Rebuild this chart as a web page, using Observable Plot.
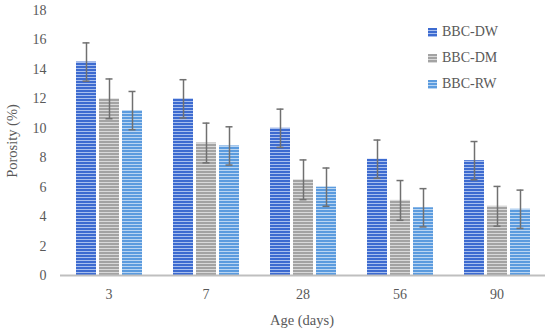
<!DOCTYPE html>
<html>
<head>
<meta charset="utf-8">
<script src="https://cdn.jsdelivr.net/npm/d3@7"></script>
<script src="https://cdn.jsdelivr.net/npm/@observablehq/plot@0.6"></script>
<style>
  html, body { margin: 0; padding: 0; background: #fff; }
  #wrap { position: relative; width: 550px; height: 331px; font-family: "Liberation Serif", "DejaVu Serif", serif; color: #595959; }
  #legend { position: absolute; left: 428px; top: 19px; font-size: 14px; }
  #legend .row { display: flex; align-items: center; height: 26px; }
  #legend svg { margin-right: 5px; }
  .xtitle { position: absolute; left: 0; width: 604px; text-align: center; top: 312px; font-size: 14.5px; }
  .ytitle { position: absolute; left: 12px; top: 141px; font-size: 14.5px; transform: translate(-50%, -50%) rotate(-90deg); white-space: nowrap; }
</style>
</head>
<body>
<svg width="0" height="0" style="position:absolute">
  <defs>
    <pattern id="pDW" width="4" height="3" patternUnits="userSpaceOnUse">
      <rect width="4" height="3" fill="#3D6BD0"/>
      <rect y="2" width="4" height="1" fill="#A8BFEE"/>
    </pattern>
    <pattern id="pDM" width="4" height="3" patternUnits="userSpaceOnUse">
      <rect width="4" height="3" fill="#A3A3A3"/>
      <rect y="2" width="4" height="1" fill="#D9D9D9"/>
    </pattern>
    <pattern id="pRW" width="4" height="3" patternUnits="userSpaceOnUse">
      <rect width="4" height="3" fill="#5B9BDE"/>
      <rect y="2" width="4" height="1" fill="#B9D5F2"/>
    </pattern>
  </defs>
</svg>
<div id="wrap"></div>
<script>
const ages = ["3", "7", "28", "56", "90"];
const seriesNames = ["BBC-DW", "BBC-DM", "BBC-RW"];
const dw = [14.5, 12.0, 10.0, 7.9, 7.8];
const dm = [12.0, 9.0, 6.5, 5.1, 4.7];
const rw = [11.2, 8.8, 6.0, 4.6, 4.5];
const dwErr = [1.3, 1.3, 1.3, 1.3, 1.3];
const dmErr = [1.35, 1.35, 1.35, 1.35, 1.35];
const rwErr = [1.3, 1.3, 1.3, 1.3, 1.3];
const yTicks = [0, 2, 4, 6, 8, 10, 12, 14, 16, 18];
const xTitle = "Age (days)";
const yTitle = "Porosity (%)";
const patterns = ["url(#pDW)", "url(#pDM)", "url(#pRW)"];

const vals = [dw, dm, rw];
const errs = [dwErr, dmErr, rwErr];
const data = [];
ages.forEach((a, i) => {
  seriesNames.forEach((s, j) => {
    data.push({age: a, series: s, value: vals[j][i], err: errs[j][i]});
  });
});

const font = '"Liberation Serif", "DejaVu Serif", serif';

const chart = Plot.plot({
  width: 550,
  height: 331,
  marginLeft: 58,
  marginRight: 3,
  marginTop: 10,
  marginBottom: 56,
  style: {fontFamily: font, fontSize: "14px", color: "#595959", background: "#fff"},
  fx: {domain: ages, padding: 0, label: null, axis: "bottom", tickSize: 0, tickPadding: 14},
  x: {domain: seriesNames, paddingInner: 0.15, paddingOuter: 0.65, axis: null},
  y: {domain: [0, 18], ticks: yTicks, tickSize: 0, tickPadding: 14, label: null, tickFormat: d3.format("d")},
  color: {domain: seriesNames, range: patterns},
  marks: [
    Plot.barY(data, {fx: "age", x: "series", y: "value", fill: "series"}),
    Plot.ruleX(data, {fx: "age", x: "series", y1: d => d.value - d.err, y2: d => d.value + d.err, stroke: "#707070", strokeWidth: 1.5}),
    Plot.tickY(data, {fx: "age", x: "series", y: d => d.value + d.err, stroke: "#707070", strokeWidth: 1.5, insetLeft: 6.5, insetRight: 6.5}),
    Plot.tickY(data, {fx: "age", x: "series", y: d => d.value - d.err, stroke: "#707070", strokeWidth: 1.5, insetLeft: 6.5, insetRight: 6.5}),
    Plot.ruleY([0], {stroke: "#BFBFBF", strokeWidth: 2})
  ]
});
const wrap = document.getElementById("wrap");
wrap.appendChild(chart);

const xt = document.createElement("div");
xt.className = "xtitle"; xt.textContent = xTitle; wrap.appendChild(xt);
const yt = document.createElement("div");
yt.className = "ytitle"; yt.textContent = yTitle; wrap.appendChild(yt);

const legend = document.createElement("div");
legend.id = "legend";
seriesNames.forEach((s, j) => {
  const row = document.createElement("div");
  row.className = "row";
  row.innerHTML = `<svg width="9" height="9"><rect width="9" height="9" fill="${patterns[j]}"/></svg><span>${s}</span>`;
  legend.appendChild(row);
});
wrap.appendChild(legend);
</script>
</body>
</html>
